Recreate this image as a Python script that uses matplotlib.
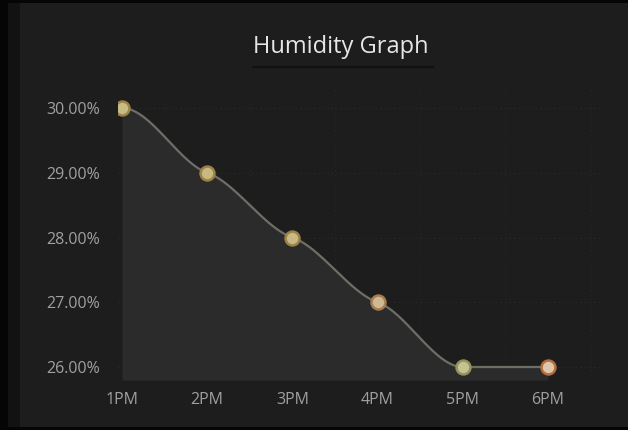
import numpy as np
import matplotlib
matplotlib.use("Agg")
import matplotlib.pyplot as plt
from matplotlib.patches import Rectangle

# Humidity readings over the afternoon
hours = ["1PM", "2PM", "3PM", "4PM", "5PM", "6PM"]
humidity = [30.0, 29.0, 28.0, 27.0, 26.0, 26.0]
y_ticks = [26.0, 27.0, 28.0, 29.0, 30.0]
marker_faces = ["#c9bb86", "#c8b882", "#c9b984", "#d0b892", "#c4c492", "#e0c6ac"]
marker_edges = ["#9c8444", "#9c8244", "#9c8244", "#a87c50", "#92925a", "#b0703e"]

W, H = 628, 430
fig = plt.figure(figsize=(W / 100, H / 100), dpi=100, facecolor="#050505")

# dark card behind the chart
fig.patches.append(Rectangle((8 / W, 3 / H), (W - 8) / W, (H - 6) / H,
                             transform=fig.transFigure, facecolor="#1d1d1d",
                             edgecolor="none", zorder=-2))
fig.patches.append(Rectangle((8 / W, 3 / H), 12 / W, (H - 6) / H,
                             transform=fig.transFigure, facecolor="#121212",
                             edgecolor="none", zorder=-1))

left_px, right_px, top_px, bottom_px = 118, 600, 90, 380
ax = fig.add_axes([left_px / W, 1 - bottom_px / H,
                   (right_px - left_px) / W, (bottom_px - top_px) / H])
ax.set_facecolor("none")

x = np.arange(len(hours))
y = np.array(humidity)

# smooth Hermite curve through the readings (softened tangents)
sec = np.diff(y)
tang = np.zeros_like(y)
for i in range(1, len(y) - 1):
    if sec[i - 1] * sec[i] > 0:
        tang[i] = 0.45 * (sec[i - 1] + sec[i]) / 2
xs, ys = [], []
for i in range(len(y) - 1):
    t = np.linspace(0, 1, 60)
    h00 = 2 * t**3 - 3 * t**2 + 1
    h10 = t**3 - 2 * t**2 + t
    h01 = -2 * t**3 + 3 * t**2
    h11 = t**3 - t**2
    xs.append(x[i] + t)
    ys.append(h00 * y[i] + h10 * tang[i] + h01 * y[i + 1] + h11 * tang[i + 1])
xs = np.concatenate(xs)
ys = np.concatenate(ys)

x0 = -(122 - left_px) / 85.2
x1 = 5 + (right_px - 548) / 85.2
y_lo = 26 - (bottom_px - 367) / 64.75
y_hi = 30 + (108 - top_px) / 64.75
ax.set_xlim(x0, x1)
ax.set_ylim(y_lo, y_hi)

# faint dotted grid
for v in y_ticks:
    ax.axhline(v, color="#2c2c2c", lw=0.8, ls=(0, (1, 3)), zorder=1)
for v in np.arange(0, 6) + 0.5:
    ax.axvline(v, color="#262626", lw=0.8, ls=(0, (1, 3)), zorder=1)

ax.fill_between(xs, ys, y_lo, color="#2e2e2e", alpha=0.85, lw=0, zorder=2)
ax.plot(xs, ys, color="#6e6e66", lw=1.6, zorder=3)
for xi, yi, fc, ec in zip(x, y, marker_faces, marker_edges):
    ax.plot(xi, yi, "o", ms=10, mfc=fc, mec=ec, mew=1.8, zorder=4)

ax.set_xticks(x)
ax.set_xticklabels(hours)
ax.set_yticks(y_ticks)
ax.set_yticklabels([f"{v:.2f}%" for v in y_ticks])
ax.tick_params(length=0, colors="#a0a0a0", labelsize=11.5)
ax.tick_params(axis="y", pad=13)
ax.tick_params(axis="x", pad=9)
for lab in ax.get_xticklabels() + ax.get_yticklabels():
    lab.set_fontfamily("Open Sans")
for s in ax.spines.values():
    s.set_visible(False)

fig.text(341 / W, 1 - 47 / H, "Humidity Graph", ha="center", va="center",
         color="#e6e6e6", fontsize=17, family="Open Sans")
fig.add_artist(plt.Line2D([253 / W, 433 / W], [1 - 67 / H, 1 - 67 / H],
                          transform=fig.transFigure, color="#111111", lw=1.5))

fig.savefig("out.png", dpi=100, facecolor=fig.get_facecolor())
